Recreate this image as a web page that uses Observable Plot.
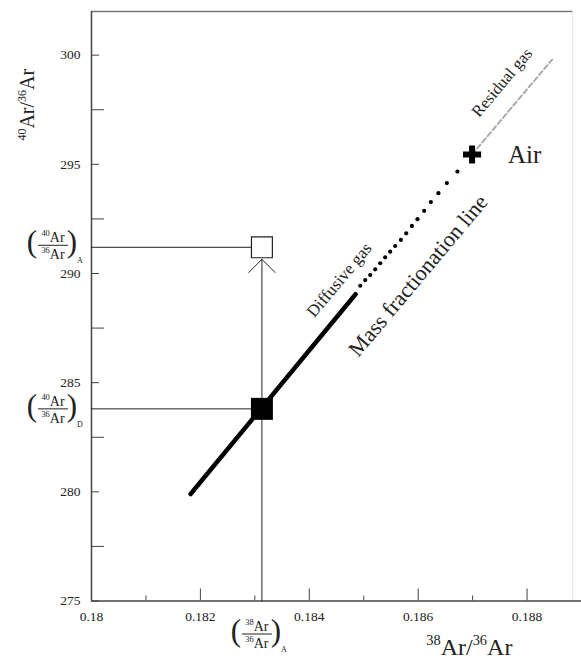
<!DOCTYPE html>
<html><head><meta charset="utf-8">
<script src="https://cdn.jsdelivr.net/npm/d3@7"></script>
<script src="https://cdn.jsdelivr.net/npm/@observablehq/plot@0.6"></script>
<style>
html,body{margin:0;padding:0;background:#fff;}
#chart svg{display:block;}
</style></head><body><div id="chart"></div>
<script>
// ---- data ----
const xTicks = [0.18, 0.182, 0.184, 0.186, 0.188];
const xTickLabels = ["0.18", "0.182", "0.184", "0.186", "0.188"];
const xMinorTicks = [0.181, 0.183, 0.185, 0.187];
const yTicks = [275, 280, 285, 290, 295, 300];
const yMinorTicks = [277.5, 282.5, 287.5, 292.5, 297.5];

// diffusive gas: dense (solid-looking) part
const denseX = [0.18182, 0.18485];
const denseY = [279.9, 289.05];
// diffusive gas: discrete dots towards air
const dotX = [0.184936, 0.185028, 0.185119, 0.185211, 0.185303, 0.185394, 0.185486, 0.185578, 0.185683, 0.185780, 0.185884, 0.185987, 0.186110, 0.186233, 0.186372, 0.186527, 0.186721];
const dotY = [289.44, 289.70, 289.93, 290.19, 290.47, 290.74, 291.00, 291.26, 291.54, 291.84, 292.18, 292.49, 292.87, 293.27, 293.68, 294.14, 294.67];
// residual gas (dashed)
const residualX = [0.18699, 0.18846];
const residualY = [295.45, 299.8];
// special points
const airX = 0.18699, airY = 295.45;
const sampleX = 0.18313;
const sampleDY = 283.8;   // (40Ar/36Ar)_D
const sampleAY = 291.2;   // (40Ar/36Ar)_A

const FONT = "Liberation Serif, Times New Roman, Times, serif";
const INK = "#222";

const dense = denseX.map((x, i) => ({x, y: denseY[i]}));
const dots = dotX.map((x, i) => ({x, y: dotY[i]}));
const residual = residualX.map((x, i) => ({x, y: residualY[i]}));

const plot = Plot.plot({
  width: 581,
  height: 659,
  marginLeft: 91,
  marginRight: 0,
  marginTop: 11,
  marginBottom: 58.5,
  x: {domain: [0.18, 0.189]},
  y: {domain: [275, 302]},
  style: {fontFamily: FONT, fontSize: "13px", background: "white", color: INK},
  marks: [
    // frame
    Plot.ruleY([302], {x1: 0.18, x2: 0.18884, stroke: "#777", strokeWidth: 1.5}),
    Plot.ruleX([0.18884], {y1: 275, y2: 302, stroke: "#e4e4e4", strokeWidth: 1}),
    Plot.ruleX([0.18], {stroke: "#444", strokeWidth: 1.5}),
    Plot.ruleY([275], {stroke: "#444", strokeWidth: 1.5}),
    // ticks (inward)
    Plot.axisY(yTicks, {anchor: "left", tickSize: -8, fill: "none", stroke: "#444", label: null}),
    Plot.axisY(yMinorTicks, {anchor: "left", tickSize: -13, fill: "none", stroke: "#444", label: null}),
    Plot.axisY(yTicks, {anchor: "left", tickSize: 0, tickPadding: 11, fontSize: 13.5, fontFamily: FONT, fontVariant: "normal", fill: INK, label: null}),
    Plot.axisX(xTicks, {anchor: "bottom", tickSize: -12, fill: "none", stroke: "#444", label: null}),
    Plot.axisX(xMinorTicks, {anchor: "bottom", tickSize: -5, fill: "none", stroke: "#444", label: null}),
    Plot.axisX(xTicks, {anchor: "bottom", tickSize: 0, tickPadding: 10.5, fontSize: 13.5, fontFamily: FONT, fontVariant: "normal", fill: INK, label: null,
      tickFormat: d => xTickLabels[xTicks.indexOf(d)]}),
    // guide lines
    Plot.ruleY([sampleAY], {x1: 0.18, x2: sampleX, stroke: INK, strokeWidth: 1}),
    Plot.ruleY([sampleDY], {x1: 0.18, x2: sampleX, stroke: INK, strokeWidth: 1}),
    Plot.arrow([0], {x1: sampleX, y1: 275, x2: sampleX, y2: sampleAY, insetEnd: 12,
      headLength: 28, headAngle: 90, stroke: INK, strokeWidth: 1}),
    // mass fractionation line
    Plot.line(dense, {x: "x", y: "y", stroke: "black", strokeWidth: 4.5, strokeLinecap: "round"}),
    Plot.dot(dots, {x: "x", y: "y", r: 2.1, fill: "black"}),
    Plot.line(residual, {x: "x", y: "y", stroke: "#aaa", strokeWidth: 2, strokeDasharray: "5,3"}),
    // points
    Plot.dot([0], {x: () => sampleX, y: () => sampleDY, symbol: "square", r: 12.4, fill: "black"}),
    Plot.dot([0], {x: () => sampleX, y: () => sampleAY, symbol: "square", r: 11.8, fill: "white", stroke: INK, strokeWidth: 1.2}),
    Plot.dot([0], {x: () => airX, y: () => airY, symbol: "cross", r: 7.6, fill: "black"}),
    // labels
    Plot.text(["Air"], {x: () => airX, y: () => airY, dx: 36, textAnchor: "start", fontSize: 25, fill: INK}),
    Plot.text(["Residual gas"], {x: () => 0.18754, y: () => 298.75, rotate: -50, fontSize: 16.5, fill: INK}),
    Plot.text(["Diffusive gas"], {x: () => 0.18455, y: () => 289.7, rotate: -50, fontSize: 17, fill: INK}),
    Plot.text(["Mass fractionation line"], {x: () => 0.186, y: () => 289.9, rotate: -50, fontSize: 22, fill: INK}),
    // axis titles
    Plot.text(["^40Ar/^36Ar"], {x: () => 0.18, y: () => 297.73, dx: -64, rotate: -90, fontSize: 20, fill: INK}),
    Plot.text(["^38Ar/^36Ar"], {x: () => 0.18694, y: () => 275, dy: 46, fontSize: 24, fill: INK})
  ]
});

document.getElementById("chart").appendChild(plot);

const NS = "http://www.w3.org/2000/svg";
function applySup(el) {
  const s = el.textContent;
  if (!s.includes("^")) return;
  const fs = parseFloat(getComputedStyle(el).fontSize);
  const up = fs * 0.42;
  const parts = s.split(/\^(\d+)/);
  while (el.firstChild) el.removeChild(el.firstChild);
  let shifted = false;
  parts.forEach((p, i) => {
    if (!p) return;
    const t = document.createElementNS(NS, "tspan");
    t.textContent = p;
    if (i % 2 === 1) {
      t.setAttribute("font-size", (fs * 0.6).toFixed(2));
      if (!shifted) { t.setAttribute("dy", -up); shifted = true; }
    } else if (shifted) {
      t.setAttribute("dy", up); shifted = false;
    }
    el.appendChild(t);
  });
}

const svg = d3.select(plot);
const sx = plot.scale("x"), sy = plot.scale("y");

function fraction(cx, cy, num, den, sub) {
  const g = svg.append("g").attr("transform", `translate(${cx},${cy})`)
    .attr("font-family", FONT).attr("fill", INK);
  g.append("text").attr("x", -21).attr("y", 7).attr("font-size", 31).attr("text-anchor", "middle").text("(");
  g.append("text").attr("x", 19).attr("y", 7).attr("font-size", 31).attr("text-anchor", "middle").text(")");
  g.append("text").attr("x", 0).attr("y", -3).attr("font-size", 14).attr("text-anchor", "middle").text(num);
  g.append("line").attr("x1", -15).attr("x2", 15).attr("y1", 0).attr("y2", 0).attr("stroke", INK).attr("stroke-width", 1);
  g.append("text").attr("x", 0).attr("y", 14).attr("font-size", 14).attr("text-anchor", "middle").text(den);
  g.append("text").attr("x", 27).attr("y", 18).attr("font-size", 8).attr("text-anchor", "middle").text(sub);
}

const x0 = sx.apply(0.18);
fraction(x0 - 38, sy.apply(sampleAY) - 1.5, "^40Ar", "^36Ar", "A");
fraction(x0 - 38, sy.apply(sampleDY) + 0.5, "^40Ar", "^36Ar", "D");
fraction(sx.apply(sampleX) - 4.5, sy.apply(275) + 33.5, "^38Ar", "^36Ar", "A");

svg.selectAll("text").each(function() { applySup(this); });
</script>
</body></html>
